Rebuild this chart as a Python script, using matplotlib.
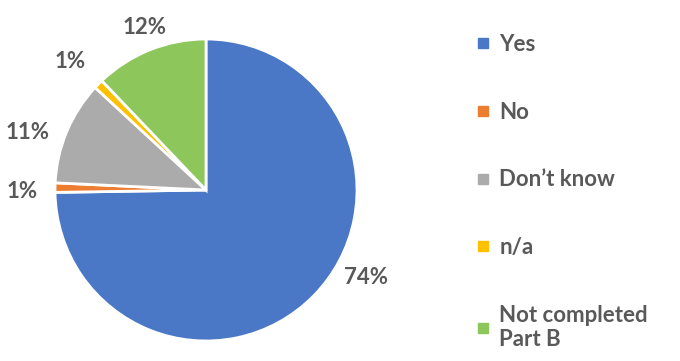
import matplotlib.pyplot as plt
from matplotlib.lines import Line2D
import numpy as np

answers = ["Yes", "No", "Don\u2019t know", "n/a", "Not completed\nPart B"]
shares = [74, 1, 11, 1, 12]
colours = ["#4A78C6", "#ED7D31", "#ABABAB", "#FFC000", "#8DC65A"]

# where each percentage sits: (angle in degrees, distance in radii)
label_pos = [(-28.7, 1.21), (180.6, 1.22), (162.2, 1.24), (136.7, 1.24), (110.6, 1.15)]

plt.rcParams['font.family'] = ['Lato', 'DejaVu Sans']
text_grey = "#595959"

fig = plt.figure(figsize=(6.8, 3.61), dpi=100)
W, H = 680, 361
cx, cy, r = 206, 190, 151
ax = fig.add_axes([(cx - r) / W, (H - cy - r) / H, 2 * r / W, 2 * r / H])

wedges, _ = ax.pie(shares, colors=colours, startangle=90, counterclock=False,
                   wedgeprops=dict(edgecolor="white", linewidth=2))
ax.set_xlim(-1, 1)
ax.set_ylim(-1, 1)
ax.set_aspect("equal")
ax.axis("off")

for val, (ang, dist) in zip(shares, label_pos):
    a = np.deg2rad(ang)
    ax.text(dist * np.cos(a), dist * np.sin(a), f"{val}%", ha="center", va="center",
            fontsize=16, fontweight="bold", color=text_grey, clip_on=False)

handles = [Line2D([], [], marker="s", linestyle="none", markersize=7,
                  markerfacecolor=c, markeredgecolor=c) for c in colours]
leg = fig.legend(handles, answers, loc="upper left", bbox_to_anchor=(456 / W, 1 - 14 / H),
                 frameon=False, handlelength=0.6, handletextpad=0.45, labelspacing=2.1,
                 prop=dict(size=16, weight="bold"))
for t in leg.get_texts():
    t.set_color(text_grey)

fig.savefig("out.png", dpi=100)
